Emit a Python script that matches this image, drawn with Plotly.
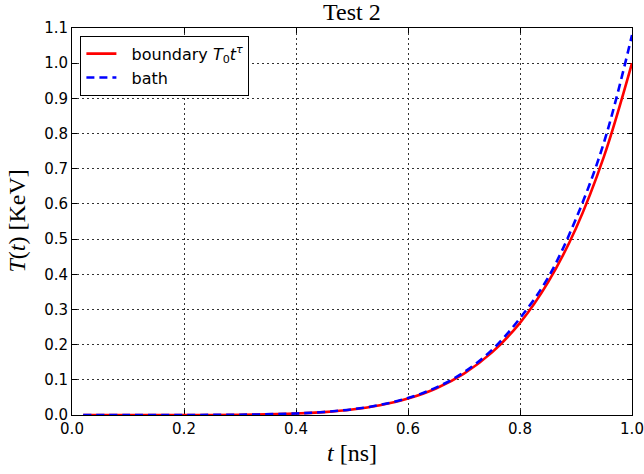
import plotly.graph_objects as go

# Data
t_vals = [0.02, 0.1, 0.2, 0.3, 0.4, 0.45, 0.5, 0.55, 0.6, 0.65, 0.7, 0.75, 0.8, 0.85, 0.9, 0.95, 1.0]
boundary_T = [0.0, 0.0, 0.0001, 0.0007, 0.0041, 0.0083, 0.0156, 0.0277, 0.0467, 0.0754, 0.1176, 0.178, 0.262, 0.377, 0.531, 0.735, 1.0]
bath_T = [0.0, 0.0, 0.0001, 0.0008, 0.0043, 0.0086, 0.0162, 0.0287, 0.0482, 0.0778, 0.1215, 0.185, 0.275, 0.39, 0.558, 0.775, 1.08]

x_ticks = [0.0, 0.2, 0.4, 0.6, 0.8, 1.0]
y_ticks = [0.0, 0.1, 0.2, 0.3, 0.4, 0.5, 0.6, 0.7, 0.8, 0.9, 1.0, 1.1]

fig = go.Figure()
fig.add_trace(go.Scatter(
    x=t_vals, y=boundary_T, mode="lines",
    name="  boundary <i>T</i><sub>0</sub><i>t</i><sup><i>τ</i></sup>",
    line=dict(color="#ff0000", width=2.6, shape="spline"),
))
fig.add_trace(go.Scatter(
    x=t_vals, y=bath_T, mode="lines", name="  bath",
    line=dict(color="#0000ff", width=2.6, dash="8px,5px", shape="spline"),
))

axis_common = dict(
    showline=True, linecolor="black", linewidth=1, mirror="allticks",
    ticks="inside", ticklen=5, tickcolor="black", tickwidth=1,
    showgrid=True, gridcolor="#333333", gridwidth=1, griddash="2px,3px",
    zeroline=False, automargin=False, layer="below traces",
    tickfont=dict(family="DejaVu Sans", size=15, color="black"),
)

fig.update_xaxes(range=[0, 1.0], tickvals=x_ticks,
                 ticktext=[f"{v:.1f}" for v in x_ticks], **axis_common)
fig.update_yaxes(range=[0, 1.1], tickvals=y_ticks,
                 ticktext=[f"{v:.1f}" for v in y_ticks], **axis_common)

fig.update_layout(
    width=644, height=474,
    margin=dict(l=72, r=12, t=28, b=59),
    plot_bgcolor="white", paper_bgcolor="white",
    showlegend=True,
    legend=dict(
        x=0.015, y=0.98, xanchor="left", yanchor="top",
        bordercolor="black", borderwidth=1, bgcolor="white",
        font=dict(family="DejaVu Sans", size=16, color="black"),
        tracegroupgap=0,
    ),
    annotations=[
        dict(text="Test 2", x=0.5, y=1.0, xref="paper", yref="paper",
             xanchor="center", yanchor="bottom", yshift=1, showarrow=False,
             font=dict(family="Liberation Serif", size=24, color="black")),
        dict(text="<i>t</i> [ns]", x=0.5, y=-0.097, xref="paper", yref="paper",
             xanchor="center", yanchor="middle", showarrow=False,
             font=dict(family="Liberation Serif", size=24, color="black")),
        dict(text="<i>T</i>(<i>t</i>) [KeV]", x=-0.1, y=0.5, xref="paper", yref="paper",
             xanchor="center", yanchor="middle", showarrow=False, textangle=-90,
             font=dict(family="Liberation Serif", size=24, color="black")),
    ],
)

fig.write_html("out.html")
